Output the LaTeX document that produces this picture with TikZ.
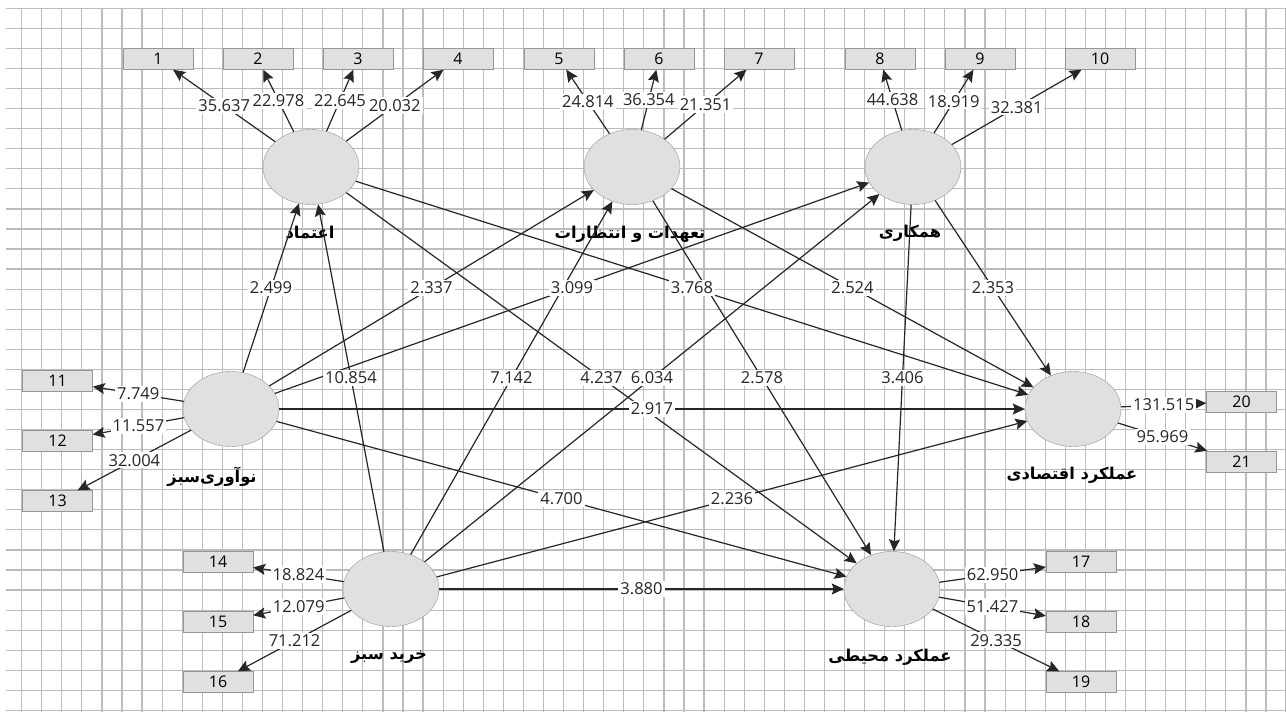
\documentclass[tikz,border=0pt]{standalone}
\usepackage{fontspec}
\setmainfont{Open Sans}
\newfontfamily\fafont[Script=Arabic]{DejaVu Sans}
\TeXXeTstate=1
\usetikzlibrary{shapes.geometric,arrows.meta}
\definecolor{gridgray}{RGB}{188,188,188}
\definecolor{shadegray}{RGB}{224,224,224}
\definecolor{rimgray}{RGB}{150,150,150}

\tikzset{
  latent/.style={ellipse, draw=rimgray, fill=shadegray, minimum width=96pt, minimum height=75pt, inner sep=0pt},
  indicator/.style={rectangle, draw=rimgray, fill=shadegray, minimum width=70pt, minimum height=21pt, inner sep=0pt, font=\fontsize{16}{16}\selectfont},
  lname/.style={font=\fafont\bfseries\fontsize{16.3}{16.3}\selectfont, inner sep=0pt},
  tval/.style={fill=white, inner sep=2pt, font=\fontsize{16.5}{16.5}\selectfont, text=black!85},
  link/.style={draw=black!85, line width=1.2pt, -{Stealth[length=12pt,width=11pt,inset=2pt]}},
  gridline/.style={draw=gridgray, line width=1.2pt}
}

\begin{document}
\begin{tikzpicture}[x=1pt, y=-1pt]
    \useasboundingbox (0,0) rectangle (1286,712);
    \fill[white] (0,0) rectangle (1286,712);

    % grid
    \foreach \k in {1,...,64}
      \draw[gridline] ({1.6+20.07*\k},8) -- ({1.6+20.07*\k},712);
    \foreach \k in {0,...,35}
      \draw[gridline] (6,{8.3+20.06*\k}) -- (1286,{8.3+20.06*\k});

    % constructs
    \node[latent] (trust) at (311,167) {};
    \node[latent] (commit) at (632,167) {};
    \node[latent] (coop) at (913,167) {};
    \node[latent] (ginno) at (231,409) {};
    \node[latent] (econ) at (1073,409) {};
    \node[latent] (gbuy) at (391,589) {};
    \node[latent] (envp) at (892,589) {};

    \node[lname] (trustname) at (310,233) {\beginR اعتماد\endR};
    \node[lname] (commitname) at (630,234) {\beginR تعهدات و انتظارات\endR};
    \node[lname] (coopname) at (910,233) {\beginR همکاری\endR};
    \node[lname] (ginnoname) at (212,477) {\beginR نوآوری‌سبز\endR};
    \node[lname] (econname) at (1072,475) {\beginR عملکرد اقتصادی\endR};
    \node[lname] (gbuyname) at (389,657) {\beginR خرید سبز\endR};
    \node[lname] (envpname) at (890,657) {\beginR عملکرد محیطی\endR};

    % items
    \node[indicator] (i1) at (158,59) {1};
    \node[indicator] (i2) at (258,59) {2};
    \node[indicator] (i3) at (358,59) {3};
    \node[indicator] (i4) at (458,59) {4};
    \node[indicator] (i5) at (559,59) {5};
    \node[indicator] (i6) at (659,59) {6};
    \node[indicator] (i7) at (759,59) {7};
    \node[indicator] (i8) at (880,59) {8};
    \node[indicator] (i9) at (980,59) {9};
    \node[indicator] (i10) at (1100,59) {10};
    \node[indicator] (i11) at (57.5,381) {11};
    \node[indicator] (i12) at (57.5,441) {12};
    \node[indicator] (i13) at (57.5,501) {13};
    \node[indicator] (i14) at (218,562) {14};
    \node[indicator] (i15) at (218,622) {15};
    \node[indicator] (i16) at (218,682) {16};
    \node[indicator] (i17) at (1081,562) {17};
    \node[indicator] (i18) at (1081,622) {18};
    \node[indicator] (i19) at (1081,682) {19};
    \node[indicator] (i20) at (1241.5,401.5) {20};
    \node[indicator] (i21) at (1241.5,461.5) {21};

    % outer loadings
    \draw[link] (trust) -- node[tval] {35.637} (i1);
    \draw[link] (trust) -- node[tval] {22.978} (i2);
    \draw[link] (trust) -- node[tval] {22.645} (i3);
    \draw[link] (trust) -- node[tval] {20.032} (i4);
    \draw[link] (commit) -- node[tval] {24.814} (i5);
    \draw[link] (commit) -- node[tval] {36.354} (i6);
    \draw[link] (commit) -- node[tval] {21.351} (i7);
    \draw[link] (coop) -- node[tval] {44.638} (i8);
    \draw[link] (coop) -- node[tval] {18.919} (i9);
    \draw[link] (coop) -- node[tval] {32.381} (i10);
    \draw[link] (ginno) -- node[tval] {7.749} (i11);
    \draw[link] (ginno) -- node[tval] {11.557} (i12);
    \draw[link] (ginno) -- node[tval] {32.004} (i13);
    \draw[link] (gbuy) -- node[tval] {18.824} (i14);
    \draw[link] (gbuy) -- node[tval] {12.079} (i15);
    \draw[link] (gbuy) -- node[tval] {71.212} (i16);
    \draw[link] (envp) -- node[tval] {62.950} (i17);
    \draw[link] (envp) -- node[tval] {51.427} (i18);
    \draw[link] (envp) -- node[tval] {29.335} (i19);
    \draw[link] (econ) -- node[tval] {131.515} (i20);
    \draw[link] (econ) -- node[tval] {95.969} (i21);

    % inner paths
    \draw[link] (ginno) -- coordinate (m1) (trust);
    \draw[link] (ginno) -- coordinate (m2) (commit);
    \draw[link] (ginno) -- coordinate (m3) (coop);
    \draw[link] (ginno) -- coordinate (m4) (econ);
    \draw[link] (ginno) -- coordinate (m5) (envp);
    \draw[link] (gbuy) -- coordinate (m6) (trust);
    \draw[link] (gbuy) -- coordinate (m7) (commit);
    \draw[link] (gbuy) -- coordinate (m8) (coop);
    \draw[link] (gbuy) -- coordinate (m9) (econ);
    \draw[link] (gbuy) -- coordinate (m10) (envp);
    \draw[link] (trust) -- coordinate (m11) (econ);
    \draw[link] (trust) -- coordinate (m12) (envp);
    \draw[link] (commit) -- coordinate (m13) (econ);
    \draw[link] (commit) -- coordinate (m14) (envp);
    \draw[link] (coop) -- coordinate (m15) (econ);
    \draw[link] (coop) -- coordinate (m16) (envp);

    \node[tval] (t1) at (m1) {2.499};
    \node[tval] (t2) at (m2) {2.337};
    \node[tval] (t3) at (m3) {3.099};
    \node[tval] (t4) at (m4) {2.917};
    \node[tval] (t5) at (m5) {4.700};
    \node[tval] (t6) at (m6) {10.854};
    \node[tval] (t7) at (m7) {7.142};
    \node[tval] (t8) at (m8) {6.034};
    \node[tval] (t9) at (m9) {2.236};
    \node[tval] (t10) at (m10) {3.880};
    \node[tval] (t11) at (m11) {3.768};
    \node[tval] (t12) at (m12) {4.237};
    \node[tval] (t13) at (m13) {2.524};
    \node[tval] (t14) at (m14) {2.578};
    \node[tval] (t15) at (m15) {2.353};
    \node[tval] (t16) at (m16) {3.406};
\end{tikzpicture}
\end{document}
